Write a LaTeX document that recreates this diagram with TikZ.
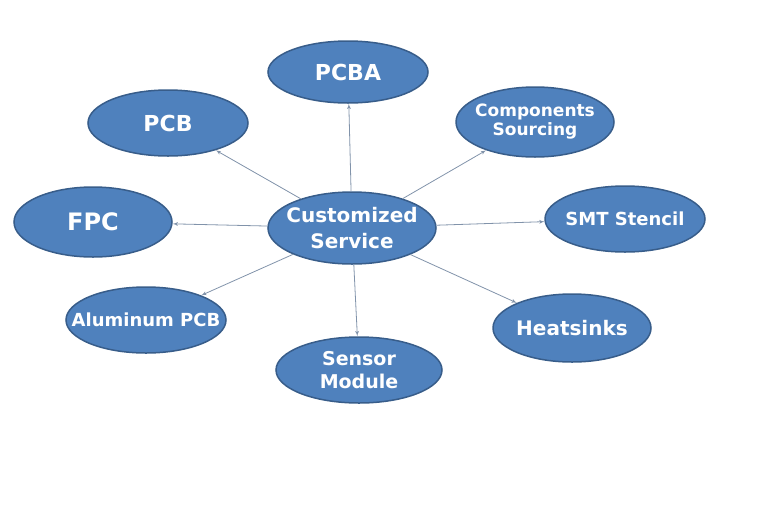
\documentclass[tikz,border=0pt]{standalone}
\usepackage{fontspec}
\setmainfont{DejaVu Sans}
\usepackage{xcolor}
\usepackage{tikz}
\usetikzlibrary{shapes.geometric, arrows, positioning}

\definecolor{ovalfill}{HTML}{4F81BD}
\definecolor{ovaldraw}{HTML}{385D8A}
\definecolor{linkgray}{HTML}{8193AA}

\begin{document}
\begin{tikzpicture}[x=1pt, y=-1pt]
    % Styles
    \tikzstyle{oval} = [ellipse, draw=ovaldraw, line width=1.5pt, fill=ovalfill, text=white, font=\bfseries, align=center, inner xsep=-30pt, inner ysep=-25pt]
    \tikzstyle{line} = [draw=linkgray, line width=0.8pt, -latex']

    \useasboundingbox (0,0) rectangle (784,504);

    % Nodes
    \node [oval, minimum width=168pt, minimum height=72pt, font=\bfseries\fontsize{20}{26}\selectfont] (hub) at (352,228) {Customized\\Service};
    \node [oval, minimum width=160pt, minimum height=62pt, font=\bfseries\fontsize{22}{26}\selectfont] (pcba) at (348,72) {PCBA};
    \node [oval, minimum width=160pt, minimum height=66pt, font=\bfseries\fontsize{22}{26}\selectfont] (pcb) at (168,123) {PCB};
    \node [oval, minimum width=158pt, minimum height=70pt, font=\bfseries\fontsize{17}{19}\selectfont] (parts) at (535,122) {Components\\Sourcing};
    \node [oval, minimum width=158pt, minimum height=70pt, font=\bfseries\fontsize{24}{28}\selectfont] (fpc) at (93,222) {FPC};
    \node [oval, minimum width=160pt, minimum height=66pt, font=\bfseries\fontsize{18}{22}\selectfont] (smt) at (625,219) {SMT Stencil};
    \node [oval, minimum width=160pt, minimum height=66pt, font=\bfseries\fontsize{18}{22}\selectfont] (alu) at (146,320) {Aluminum PCB};
    \node [oval, minimum width=166pt, minimum height=66pt, font=\bfseries\fontsize{19}{23}\selectfont] (sensor) at (359,370) {Sensor\\Module};
    \node [oval, minimum width=158pt, minimum height=68pt, font=\bfseries\fontsize{20}{24}\selectfont] (heat) at (572,328) {Heatsinks};

    % Paths
    \path [line] (hub) -- (pcba);
    \path [line] (hub) -- (pcb);
    \path [line] (hub) -- (parts);
    \path [line] (hub) -- (fpc);
    \path [line] (hub) -- (smt);
    \path [line] (hub) -- (alu);
    \path [line] (hub) -- (sensor);
    \path [line] (hub) -- (heat);
\end{tikzpicture}
\end{document}
